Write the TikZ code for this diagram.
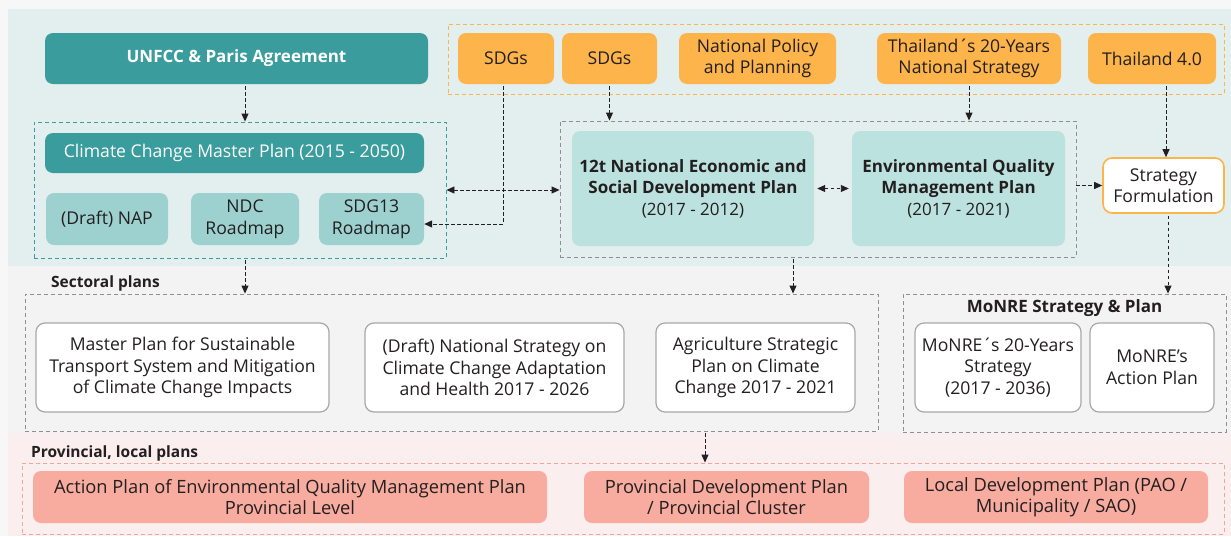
\documentclass[tikz,border=0pt]{standalone}
\usepackage{fontspec}
\setmainfont{Open Sans}
\usetikzlibrary{arrows.meta,positioning,backgrounds}
\definecolor{Teal}{HTML}{3A9C9C}
\definecolor{LightTeal}{HTML}{9DD1D0}
\definecolor{PaleTeal}{HTML}{BCE2DF}
\definecolor{TopPanel}{HTML}{E3EFEF}
\definecolor{MidPanel}{HTML}{F3F3F3}
\definecolor{LowPanel}{HTML}{FBEEEE}
\definecolor{PageGray}{HTML}{F7F7F7}
\definecolor{Orange}{HTML}{FDB44B}
\definecolor{Salmon}{HTML}{F8AC9F}
\definecolor{SalmonLine}{HTML}{F3A49B}
\definecolor{FrameGray}{HTML}{8F8F8F}
\definecolor{BoxGray}{HTML}{A8A8A8}
\definecolor{Ink}{HTML}{231F20}
\newcommand{\bodyfont}{\fontsize{17.6}{21.5}\selectfont}
\newcommand{\boldfont}{\bfseries\fontsize{17}{21.5}\selectfont}
\newcommand{\panelfont}{\bfseries\fontsize{15.5}{18}\selectfont}
\newcommand{\possacute}{´\kern-1.5pt}
\tikzset{
  plainbox/.style={
    rounded corners=8pt,
    align=center,
    inner sep=2pt,
    text=Ink,
    font=\bodyfont
  },
  tealbox/.style={plainbox, fill=Teal, text=white},
  roadbox/.style={plainbox, fill=LightTeal},
  planbox/.style={plainbox, fill=PaleTeal, font=\fontsize{17}{21.5}\selectfont},
  orangebox/.style={plainbox, fill=Orange},
  whitebox/.style={plainbox, fill=white, draw=BoxGray, line width=1.2pt, rounded corners=9pt},
  salmonbox/.style={plainbox, fill=Salmon, font=\fontsize{18.3}{21.5}\selectfont},
  stratbox/.style={plainbox, fill=white, draw=Orange, line width=1.6pt, rounded corners=9pt},
  dashframe/.style={
    draw=#1,
    line width=0.9pt,
    dash pattern=on 4pt off 3pt,
    inner sep=0pt
  },
  panellabel/.style={font=\panelfont, text=Ink, inner sep=0pt},
  flowarrow/.style={
    -{Triangle[length=8pt,width=7pt]},
    line width=0.9pt,
    draw=Ink,
    dash pattern=on 3.5pt off 2.5pt,
    shorten <=2pt
  },
  twoway/.style={
    flowarrow,
    {Triangle[length=8pt,width=7pt]}-{Triangle[length=8pt,width=7pt]},
    shorten <=0pt
  }
}

\begin{document}
\begin{tikzpicture}[x=1pt,y=-1pt]

\useasboundingbox (0,0) rectangle (1231,536);

% Background panels.
\begin{scope}[on background layer]
  \fill[PageGray] (0,0) rectangle (1231,536);
  \fill[TopPanel] (8,9) rectangle (1231,266);
  \fill[MidPanel] (8,266) rectangle (1231,433);
  \fill[LowPanel] (8,433) rectangle (1231,536);
\end{scope}

% Frames.
\node[dashframe=Teal, minimum width=412pt, minimum height=136pt] (ccframe) at (240,190) {};
\node[dashframe=Orange, minimum width=776pt, minimum height=70pt] (topframe) at (836,59) {};
\node[dashframe=FrameGray, minimum width=516pt, minimum height=136pt] (nesdframe) at (818,189) {};
\node[dashframe=FrameGray, minimum width=853pt, minimum height=137pt] (sectframe) at (451.5,362.5) {};
\node[dashframe=FrameGray, minimum width=323pt, minimum height=138pt] (monreframe) at (1064.5,363) {};
\node[dashframe=SalmonLine, minimum width=1202pt, minimum height=71pt] (provframe) at (623,498.5) {};

% Layer 1: international and national drivers.
\node[tealbox, font=\boldfont, minimum width=383pt, minimum height=51pt] (unfccc) at (236.5,58.5) {UNFCC \& Paris Agreement};

\node[orangebox, minimum width=96pt, minimum height=51pt] (sdgsa) at (506,58.5) {SDGs};
\node[orangebox, minimum width=95pt, minimum height=51pt] (sdgsb) at (609.5,58.5) {SDGs};
\node[orangebox, minimum width=157pt, minimum height=51pt] (natpol) at (757.5,58.5) {National Policy\\and Planning};
\node[orangebox, minimum width=184pt, minimum height=51pt] (thaistrat) at (969,58.5) {Thailand\possacute s 20-Years\\National Strategy};
\node[orangebox, minimum width=128pt, minimum height=51pt] (thaifour) at (1152,58.5) {Thailand 4.0};

% Layer 2: national plans.
\node[tealbox, minimum width=379pt, minimum height=40pt] (ccmp) at (234.5,153) {Climate Change Master Plan (2015 - 2050)};
\node[roadbox, minimum width=122pt, minimum height=52pt] (nap) at (107,219) {(Draft) NAP};
\node[roadbox, minimum width=108pt, minimum height=52pt] (ndc) at (245,219) {NDC\\Roadmap};
\node[roadbox, minimum width=105pt, minimum height=52pt] (sdgroad) at (371.5,219) {SDG13\\Roadmap};

\node[planbox, minimum width=242pt, minimum height=115pt] (nesdp) at (693,188.5) {%
  {\bfseries 12t National Economic and}\\
  {\bfseries Social Development Plan}\\
  (2017 - 2012)};
\node[planbox, minimum width=213pt, minimum height=115pt] (eqmp) at (958.5,188.5) {%
  {\bfseries Environmental Quality}\\
  {\bfseries Management Plan}\\
  (2017 - 2021)};

\node[stratbox, minimum width=121pt, minimum height=55pt] (stratform) at (1163.5,185.5) {Strategy\\Formulation};

% Layer 3: sectoral plans.
\node[panellabel, anchor=west] (sectlabel) at (51,283) {Sectoral plans};
\node[whitebox, minimum width=293pt, minimum height=89pt] (transport) at (182.5,367.5) {%
  Master Plan for Sustainable\\
  Transport System and Mitigation\\
  of Climate Change Impacts};
\node[whitebox, minimum width=259pt, minimum height=89pt] (adapt) at (494.5,367.5) {%
  (Draft) National Strategy on\\
  Climate Change Adaptation\\
  and Health 2017 - 2026};
\node[whitebox, minimum width=199pt, minimum height=89pt] (agri) at (755.5,367.5) {%
  Agriculture Strategic\\
  Plan on Climate\\
  Change 2017 - 2021};

\node[panellabel, font=\boldfont] (monrelabel) at (1064.5,308) {MoNRE Strategy \& Plan};
\node[whitebox, minimum width=166pt, minimum height=89pt] (monrestrat) at (998,367.5) {%
  MoNRE\possacute s 20-Years\\
  Strategy\\
  (2017 - 2036)};
\node[whitebox, minimum width=124pt, minimum height=89pt] (monreplan) at (1152,367.5) {%
  MoNRE’s\\
  Action Plan};

% Layer 4: provincial and local plans.
\node[panellabel, anchor=west] (provlabel) at (31,453) {Provincial, local plans};
\node[salmonbox, minimum width=514pt, minimum height=52pt] (eqmpprov) at (290,497) {%
  Action Plan of Environmental Quality Management Plan\\
  Provincial Level};
\node[salmonbox, minimum width=285pt, minimum height=52pt] (provdev) at (726.5,497) {%
  Provincial Development Plan\\
  / Provincial Cluster};
\node[salmonbox, minimum width=304pt, minimum height=52pt] (localdev) at (1056,497) {%
  Local Development Plan (PAO /\\
  Municipality / SAO)};

% Arrows from the drivers.
\draw[flowarrow] ([xshift=8.5pt]unfccc.south) -- ([xshift=8.5pt]unfccc.south |- ccframe.north);
\draw[flowarrow] ([xshift=-3pt]sdgsa.south) |- ([yshift=-5pt]sdgroad.east);
\draw[flowarrow] (sdgsb.south) -- (sdgsb.south |- nesdframe.north);
\draw[flowarrow] (thaistrat.south) -- (thaistrat.south |- nesdframe.north);
\draw[flowarrow] ([xshift=2.5pt]stratform.north |- thaifour.south) -- ([xshift=2.5pt]stratform.north);

% Links between the national plans.
\draw[twoway] (ccframe.east) -- (ccframe.east -| nesdframe.west);
\draw[twoway, shorten <=3pt, shorten >=3pt] (nesdp.east) -- (eqmp.west);
\draw[flowarrow, shorten <=0pt] (stratform.west -| nesdframe.east) -- (stratform.west);

% Down to sectoral, ministry and provincial plans.
\draw[flowarrow] ([xshift=5pt]ccframe.south) -- ([xshift=5pt]ccframe.south |- sectframe.north);
\draw[flowarrow] ([xshift=-25pt]nesdframe.south) -- ([xshift=-25pt]nesdframe.south |- sectframe.north);
\draw[flowarrow] ([xshift=4.5pt]stratform.south) -- ([xshift=4.5pt]stratform.south |- monreframe.north);
\draw[flowarrow] ([xshift=253.5pt]sectframe.south) -- ([xshift=253.5pt]sectframe.south |- provframe.north);

\end{tikzpicture}
\end{document}
